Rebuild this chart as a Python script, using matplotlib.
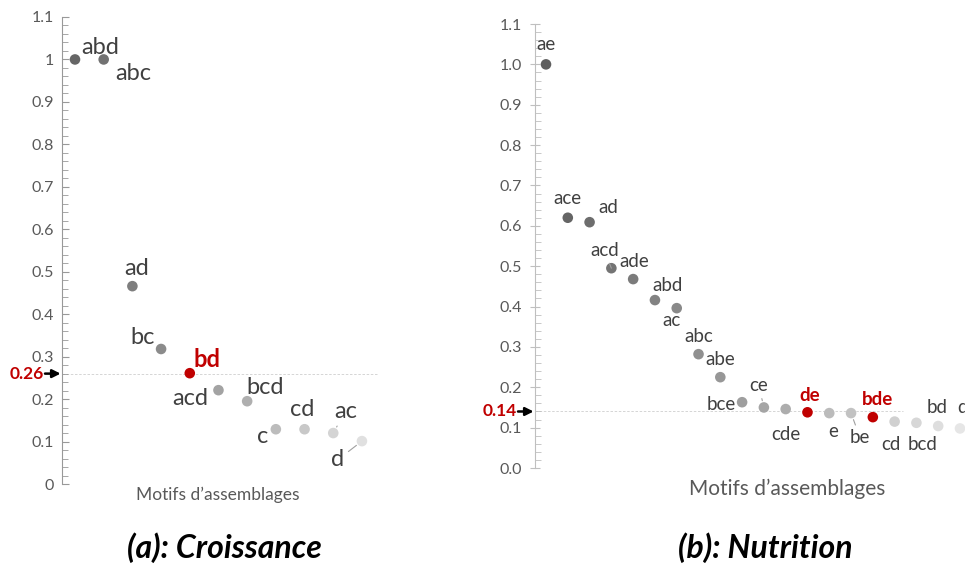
import numpy as np
import matplotlib
matplotlib.use("Agg")
from matplotlib import pyplot as plt

plt.rcParams['font.family'] = ['Lato', 'DejaVu Sans']

# Donnees (a) : Croissance
motifs_a = ["abd", "abc", "ad", "bc", "bd", "acd", "bcd", "c", "cd", "ac", "d"]
valeurs_a = [1.0, 1.0, 0.466, 0.318, 0.261, 0.221, 0.195, 0.129, 0.129, 0.12, 0.101]
seuil_a = 0.26
retenus_a = ["bd"]

# Donnees (b) : Nutrition
motifs_b = ["ae", "ace", "ad", "acd", "ade", "abd", "ac", "abc", "abe", "bce",
            "ce", "cde", "de", "e", "be", "bde", "cd", "bcd", "bd", "d"]
valeurs_b = [1.0, 0.620, 0.609, 0.495, 0.468, 0.416, 0.396, 0.282, 0.225, 0.163,
             0.150, 0.146, 0.138, 0.136, 0.136, 0.126, 0.115, 0.112, 0.104, 0.098]
seuil_b = 0.14
retenus_b = ["de", "bde"]

# placement des etiquettes (dx, dy en pixels, ligne de rappel)
offs_a = [(25, 5, 0), (30, -21, 0), (4, 11, 0), (-19, 5, 0), (17, 6, 0),
          (-28, -15, 0), (18, 7, 0), (-13, -14, 0), (-2, 13, 0), (12, 15, 1),
          (-24, -25, 1)]
offs_b = [(0, 14, 0), (0, 14, 0), (19, 9, 0), (-7, 12, 1), (1, 12, 0),
          (13, 9, 0), (-5, -18, 0), (0, 12, 0), (0, 12, 0), (-21, -8, 0),
          (-5, 16, 1), (0, -31, 0), (2, 11, 0), (4, -24, 0), (9, -30, 1),
          (5, 12, 0), (-4, -28, 0), (6, -27, 0), (-1, 13, 0), (3, 15, 0)]

ROUGE = "#c00000"
TEXTE = "#404040"


def panneau(ax, motifs, valeurs, seuil, retenus, offs, g0, g1, fs_lab,
            axe_col, fmt, croise, fin_seuil):
    n = len(motifs)
    x = np.arange(1, n + 1)
    gris = np.linspace(g0, g1, n)
    for i in range(n):
        rouge = motifs[i] in retenus
        col = ROUGE if rouge else str(gris[i])
        ax.scatter(x[i], valeurs[i], s=58, color=col, zorder=3,
                   edgecolors='none')
        dx, dy, rappel = offs[i]
        kw = {}
        if rappel:
            kw['arrowprops'] = dict(arrowstyle='-', color='#a0a0a0', lw=0.8,
                                    shrinkA=1, shrinkB=5)
        ax.annotate(motifs[i], (x[i], valeurs[i]), xytext=(dx, dy),
                    textcoords='offset pixels', ha='center', va='baseline',
                    fontsize=fs_lab, color=ROUGE if rouge else TEXTE,
                    fontweight='bold' if rouge else 'normal',
                    annotation_clip=False, **kw)

    # ligne de seuil
    ax.plot([ax.get_xlim()[0], fin_seuil], [seuil, seuil], ls=(0, (3, 2)),
            lw=0.6, color='#cfcfcf', zorder=1)
    ax.annotate("", xy=(0, seuil), xycoords=('axes fraction', 'data'),
                xytext=(-17, 0), textcoords='offset pixels',
                arrowprops=dict(arrowstyle='-|>', color='black', lw=1.8,
                                mutation_scale=12, shrinkA=0, shrinkB=1))
    ax.annotate(f"{seuil:.2f}", xy=(0, seuil),
                xycoords=('axes fraction', 'data'), xytext=(-18, 0),
                textcoords='offset pixels', ha='right', va='center',
                fontsize=12.5, fontweight='bold', color=ROUGE)

    ax.set_ylim(0, 1.1)
    ax.set_yticks(np.arange(0, 1.11, 0.1))
    ax.set_yticks(np.arange(0, 1.1, 0.02), minor=True)
    ax.set_yticklabels([fmt(v) for v in np.arange(0, 1.11, 0.1)])
    ax.set_xticks([])
    for s in ['top', 'right', 'bottom']:
        ax.spines[s].set_visible(False)
    ax.spines['left'].set_color(axe_col)
    ax.tick_params(axis='y', which='major', direction='inout' if croise else 'in',
                   length=7 if croise else 5, color=axe_col, labelcolor='#595959',
                   labelsize=11.5, pad=6)
    ax.tick_params(axis='y', which='minor', direction='in', length=4,
                   color=axe_col)
    ax.patch.set_alpha(0)


fig = plt.figure(figsize=(9.65, 5.64), dpi=100)

ax1 = fig.add_axes([62 / 965, 80 / 564, 316 / 965, 467 / 564])
ax1.set_xlim(0.547, 11.56)
panneau(ax1, motifs_a, valeurs_a, seuil_a, retenus_a, offs_a, 0.40, 0.88, 17,
        '#999999', lambda v: f"{v:.1f}".rstrip('0').rstrip('.') if v > 0 else "0",
        False, 11.56)
ax1.set_xlabel("Motifs d\u2019assemblages", fontsize=12.5, color='#595959',
               labelpad=4)
ax1.xaxis.set_label_coords((218 - 62) / 316, -0.005)

ax2 = fig.add_axes([535 / 965, 96 / 564, 430 / 965, 444 / 564])
ax2.set_xlim(0.495, 20.23)
panneau(ax2, motifs_b, valeurs_b, seuil_b, retenus_b, offs_b, 0.37, 0.90, 13.5,
        '#bfbfbf', lambda v: f"{v:.1f}", True, 17.4)
ax2.set_xlabel("Motifs d\u2019assemblages", fontsize=15, color='#595959',
               labelpad=8)
ax2.xaxis.set_label_coords((787 - 535) / 430, -0.024)

# titres
fig.text(224 / 965, 1 - 548 / 564, "(a): Croissance", ha='center', va='center',
         fontsize=23, fontweight='bold', fontstyle='italic', color='black')
fig.text(765 / 965, 1 - 548 / 564, "(b): Nutrition", ha='center', va='center',
         fontsize=23, fontweight='bold', fontstyle='italic', color='black')

fig.savefig("out.png", dpi=100, facecolor='white')
